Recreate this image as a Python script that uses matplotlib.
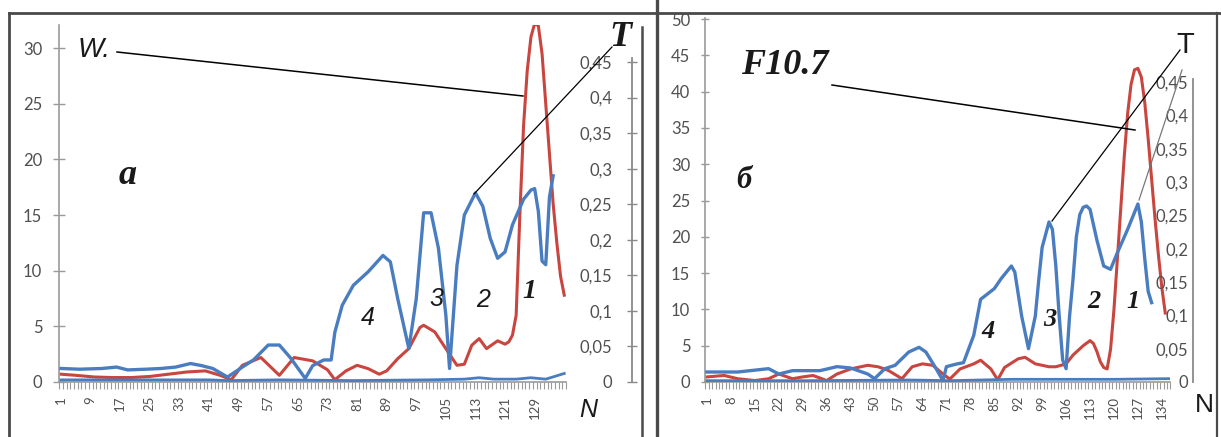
import matplotlib
matplotlib.use("Agg")
import numpy as np
import matplotlib.pyplot as plt
from matplotlib.lines import Line2D
from matplotlib.ticker import FixedLocator, FuncFormatter

# ---- panel a: sunspot number W (red) and period T (blue) ----
n_a_red = [1, 5, 10, 15, 20, 25, 30, 35, 40, 44, 47, 50, 55, 60, 64, 69, 73, 75, 78, 81,
           84, 87, 89, 92, 95, 98, 99, 102, 105, 108, 110, 112, 114, 116, 119, 121, 122,
           123, 124, 125, 126, 127, 128, 129, 130, 131, 132, 133, 134, 135, 136, 137]
w_a = [0.7, 0.6, 0.45, 0.4, 0.4, 0.5, 0.7, 0.9, 1.0, 0.6, 0.2, 1.5, 2.2, 0.6, 2.2, 1.9, 1.1,
       0.2, 1.0, 1.5, 1.2, 0.7, 1.0, 2.1, 3.0, 4.9, 5.1, 4.5, 3.0, 1.5, 1.6, 3.3, 3.9, 3.0,
       3.7, 3.4, 3.6, 4.2, 6, 15, 23, 28, 31, 32.2, 32, 29.5, 25, 20.5, 16, 12.5, 9.5, 7.8]

n_a_blue = [1, 6, 12, 16, 19, 24, 28, 32, 36, 39, 42, 46, 50, 53, 57, 60, 63, 67, 69, 72,
            74, 75, 77, 80, 84, 88, 90, 92, 95, 97, 99, 101, 103, 105, 106, 108, 110, 113,
            115, 117, 119, 121, 123, 126, 128, 129, 130, 131, 132, 133, 134]
t_a = [0.019, 0.018, 0.019, 0.021, 0.017, 0.018, 0.019, 0.021, 0.026, 0.023, 0.019, 0.007,
       0.021, 0.031, 0.052, 0.052, 0.034, 0.005, 0.023, 0.031, 0.031, 0.070, 0.108, 0.136,
       0.155, 0.178, 0.169, 0.117, 0.047, 0.117, 0.238, 0.238, 0.188, 0.094, 0.019, 0.164,
       0.235, 0.266, 0.247, 0.202, 0.174, 0.183, 0.221, 0.257, 0.270, 0.272, 0.24, 0.17,
       0.165, 0.26, 0.29]

n_a_base = [1, 41, 46, 60, 80, 100, 110, 114, 118, 124, 128, 132, 137]
t_a_base = [0.003, 0.003, 0.002, 0.003, 0.002, 0.003, 0.004, 0.006, 0.004, 0.004, 0.006,
            0.004, 0.012]

labels_a = [1, 9, 17, 25, 33, 41, 49, 57, 65, 73, 81, 89, 97, 105, 113, 121, 129]

# ---- panel b: F10.7 (red) and period T (blue) ----
n_b_red = [1, 6, 10, 15, 19, 22, 26, 29, 32, 36, 39, 43, 48, 51, 54, 58, 61, 64, 67, 70,
           72, 75, 79, 81, 84, 86, 88, 92, 94, 97, 101, 103, 106, 108, 111, 113, 114, 115,
           116, 117, 118, 119, 120, 121, 122, 123, 124, 125, 126, 127, 128, 129, 130, 131,
           132, 133, 134, 135]
f_b = [0.7, 0.9, 0.45, 0.2, 0.45, 1.1, 0.45, 0.7, 0.9, 0.2, 1.1, 1.8, 2.3, 2.1, 1.6, 0.45,
       2.1, 2.5, 2.3, 1.1, 0.4, 1.8, 2.5, 3.0, 1.8, 0.3, 2.0, 3.2, 3.4, 2.5, 2.1, 2.1, 2.5,
       3.7, 5.0, 5.7, 5.3, 4.2, 2.8, 2.0, 1.8, 4.5, 10, 17, 24, 31, 37, 41, 43, 43.2, 42,
       38.5, 33.5, 28, 22.5, 17.5, 13, 9.5]

n_b_blue = [1, 10, 19, 22, 26, 34, 39, 43, 48, 50, 53, 56, 60, 63, 65, 68, 70, 71, 74, 76,
            79, 81, 85, 87, 90, 91, 93, 95, 97, 98, 99, 101, 102, 103, 104, 105, 106, 107,
            108, 109, 110, 111, 112, 113, 115, 117, 119, 121, 124, 127, 128, 129, 130, 131]
t_b = [0.015, 0.015, 0.020, 0.012, 0.017, 0.017, 0.023, 0.021, 0.012, 0.005, 0.020, 0.025,
       0.045, 0.052, 0.045, 0.020, 0.002, 0.023, 0.027, 0.029, 0.070, 0.124, 0.140, 0.155,
       0.174, 0.165, 0.099, 0.050, 0.099, 0.153, 0.202, 0.240, 0.229, 0.174, 0.098, 0.033,
       0.020, 0.098, 0.153, 0.218, 0.251, 0.262, 0.264, 0.259, 0.213, 0.174, 0.169, 0.194,
       0.229, 0.267, 0.240, 0.185, 0.136, 0.119]

n_b_base = [1, 30, 60, 72, 90, 105, 120, 136]
t_b_base = [0.002, 0.002, 0.003, 0.002, 0.004, 0.004, 0.004, 0.005]

labels_b = [1, 8, 15, 22, 29, 36, 43, 50, 57, 64, 71, 78, 85, 92, 99, 106, 113, 120, 127, 134]

t_ticks = [0, 0.05, 0.1, 0.15, 0.2, 0.25, 0.3, 0.35, 0.4, 0.45]

RED = "#C8463F"
BLUE = "#4A7DC0"
AXGRAY = "#9A9A9A"
LBL = "#505050"
W_PX, H_PX = 1221, 437

plt.rcParams["font.family"] = ["Lato", "DejaVu Sans"]


def fx(x):
    return x / W_PX


def fy(y):
    return 1 - y / H_PX


def comma(v, pos):
    return ("%g" % v).replace(".", ",")


fig = plt.figure(figsize=(12.21, 4.37), dpi=100)


def panel(x0, x1, ytop, nmax, wmax, wstep, labels, tmax, tspine, tlen, tpad, ylen):
    ax = fig.add_axes([fx(x0), fy(382), fx(x1) - fx(x0), fy(ytop) - fy(382)])
    ax.set_xlim(0.5, nmax + 0.5)
    ax.set_ylim(0, wmax)
    for s in ["top", "right"]:
        ax.spines[s].set_visible(False)
    for s in ["left", "bottom"]:
        ax.spines[s].set_color(AXGRAY)
        ax.spines[s].set_linewidth(1.2)
    ax.set_yticks(np.arange(0, wmax, wstep))
    ax.tick_params(axis="y", direction="inout", length=ylen, color=AXGRAY, width=1,
                   labelsize=12, labelcolor=LBL, pad=7.9)
    ax.set_xticks(labels)
    ax.set_xticklabels([str(v) for v in labels], rotation=90)
    ax.xaxis.set_minor_locator(FixedLocator(np.arange(0.5, nmax + 0.6, 1)))
    ax.tick_params(axis="x", which="major", length=0, pad=10, labelsize=9.5, labelcolor=LBL)
    ax.tick_params(axis="x", which="minor", length=5, color=AXGRAY, width=0.8)

    at = ax.twinx()
    at.set_ylim(0, tmax)
    for s in ["top", "bottom", "right"]:
        at.spines[s].set_visible(False)
    at.spines["left"].set_visible(True)
    at.spines["left"].set_position(("axes", (tspine - x0) / (x1 - x0)))
    at.spines["left"].set_bounds(0, 0.455)
    at.spines["left"].set_color("#8A8A8A")
    at.spines["left"].set_linewidth(1.3)
    at.yaxis.set_ticks_position("left")
    at.set_yticks(t_ticks)
    at.yaxis.set_major_formatter(FuncFormatter(comma))
    at.tick_params(axis="y", direction="inout", length=tlen, color="#8A8A8A", width=1,
                   labelsize=12, labelcolor=LBL, pad=tpad)
    return ax, at


ax_a, at_a = panel(59.2, 566.1, 25, 137, 357 / 11.13, 5, labels_a, 357 / 711, 632, 7.2, 10.8, 8.6)
ax_a.plot(n_a_red, w_a, color=RED, lw=2.2, solid_joinstyle="round")
at_a.plot(n_a_base, t_a_base, color=BLUE, lw=2.0)
at_a.plot(n_a_blue, t_a, color=BLUE, lw=2.4, solid_joinstyle="round")

ax_b, at_b = panel(705.3, 1170.4, 18, 136, 364 / 7.26, 5, labels_b, 364 / 666.7, 1193, 0, 3.6, 5.8)
ax_b.plot(n_b_red, f_b, color=RED, lw=2.2, solid_joinstyle="round")
at_b.plot(n_b_base, t_b_base, color=BLUE, lw=2.0)
at_b.plot(n_b_blue, t_b, color=BLUE, lw=2.4, solid_joinstyle="round")


def seg(x0, y0, x1, y1, color="black", lw=1.0):
    fig.add_artist(Line2D([fx(x0), fx(x1)], [fy(y0), fy(y1)], transform=fig.transFigure,
                          color=color, lw=lw))


# frame of the scanned figure
seg(9, 13, 1221, 13, "#4a4a4a", 2.0)
seg(9, 13, 9, 437, "#4a4a4a", 2.0)
seg(642, 27, 642, 437, "#4a4a4a", 1.8)
seg(657, 0, 657, 437, "#4a4a4a", 2.4)
seg(1217, 13, 1217, 437, "#4a4a4a", 1.6)

# leader lines
seg(117, 52, 523, 96, "black", 1.1)
seg(474, 194, 612, 47, "black", 0.9)
seg(832, 85, 1135, 130, "black", 1.1)
seg(1052, 221, 1180, 50, "black", 0.9)
seg(1139, 200, 1182, 70, "#777777", 0.9)

serif = ["Liberation Serif", "DejaVu Serif"]
sans = ["Liberation Sans", "DejaVu Sans"]


def label(x, y, s, size, fam, style="normal", weight="normal"):
    fig.text(fx(x), fy(y), s, ha="center", va="center", fontsize=size, family=fam,
             style=style, weight=weight, color="#1a1a1a")


label(94, 50, "W.", 20, sans, "italic")
label(620, 38, "T", 26, serif, "italic", "bold")
label(128, 176, "а", 26, serif, "italic", "bold")
label(368, 318, "4", 18, sans, "italic")
label(436, 299, "3", 18, sans, "italic")
label(483, 300, "2", 18, sans, "italic")
label(529, 292, "1", 20, serif, "italic", "bold")
label(588, 410, "N", 18, sans, "italic")

label(785, 66, "F10.7", 26, serif, "italic", "bold")
label(744, 181, "б", 22, serif, "italic", "bold")
label(988, 331, "4", 19, serif, "italic", "bold")
label(1050, 319, "3", 19, serif, "italic", "bold")
label(1094, 302, "2", 19, serif, "italic", "bold")
label(1133, 301, "1", 19, serif, "italic", "bold")
label(1185, 45, "T", 21, sans)
label(1204, 405, "N", 19, sans)

fig.savefig("out.png", dpi=100, facecolor="white")
